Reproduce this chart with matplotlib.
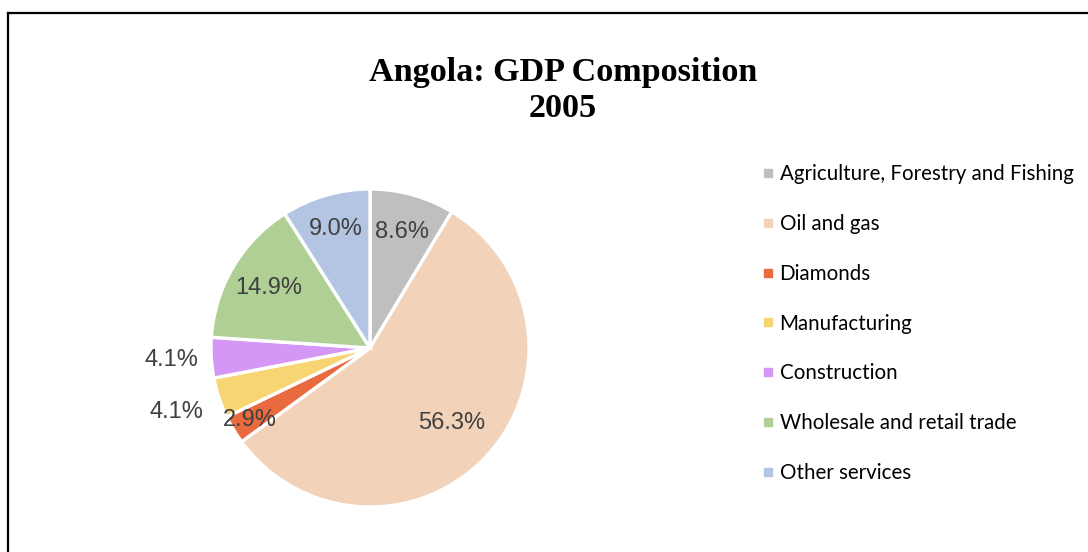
import numpy as np
import matplotlib
matplotlib.use("Agg")
import matplotlib.pyplot as plt
from matplotlib.lines import Line2D

# ---- data ----
categories = ["Agriculture, Forestry and Fishing", "Oil and gas", "Diamonds",
              "Manufacturing", "Construction", "Wholesale and retail trade",
              "Other services"]
shares = [8.6, 56.3, 2.9, 4.1, 4.1, 14.9, 9.0]
pct_labels = ["8.6%", "56.3%", "2.9%", "4.1%", "4.1%", "14.9%", "9.0%"]
title_line1 = "Angola: GDP Composition"
title_line2 = "2005"

# ---- style ----
colors = ["#BFBFBF", "#F2D3BA", "#EA6A3F", "#F6D572", "#D497F5", "#B0CF95", "#B4C4E3"]
label_dist = [0.76, 0.70, 0.88, 1.28, 1.25, 0.74, 0.78]

W, H, DPI = 1088, 552, 100
fig = plt.figure(figsize=(W / DPI, H / DPI), dpi=DPI)
fig.patch.set_facecolor("white")

# frame lines (top and left, as in the cropped screenshot)
fig.add_artist(Line2D([8 / W, 1.0], [1 - 12.5 / H, 1 - 12.5 / H], transform=fig.transFigure,
                      color="black", lw=1.6))
fig.add_artist(Line2D([8 / W, 8 / W], [0.0, 1 - 12.5 / H], transform=fig.transFigure,
                      color="black", lw=1.6))

# pie axes
cx, cy, r = 370, 348, 159
ax = fig.add_axes([(cx - r) / W, (H - cy - r) / H, 2 * r / W, 2 * r / H])
wedges, _ = ax.pie(shares, colors=colors, startangle=90, counterclock=False,
                   radius=1.0, wedgeprops=dict(edgecolor="white", linewidth=2.4))
ax.set_xlim(-1, 1)
ax.set_ylim(-1, 1)
ax.set_aspect("equal")
ax.axis("off")

for w, lab, d in zip(wedges, pct_labels, label_dist):
    ang = np.deg2rad((w.theta1 + w.theta2) / 2)
    ax.text(d * np.cos(ang), d * np.sin(ang), lab, ha="center", va="center",
            fontsize=17, color="#404040", family="Liberation Sans", clip_on=False)

# title
fig.text(563 / W, 1 - 72 / H, title_line1, ha="center", va="center",
         fontsize=24.6, fontweight="bold", family="Liberation Serif", color="black")
fig.text(563 / W, 1 - 108.5 / H, title_line2, ha="center", va="center",
         fontsize=24.6, fontweight="bold", family="Liberation Serif", color="black")

# legend
handles = [Line2D([], [], marker="s", linestyle="none", markersize=5.2,
                  markerfacecolor=c, markeredgecolor=c) for c in colors]
fig.legend(handles, categories, loc="center left",
           bbox_to_anchor=(760 / W, 1 - 323.5 / H), frameon=False,
           prop=dict(family="Lato", size=14.8), handlelength=0.75,
           handletextpad=0.2, labelspacing=1.45, borderpad=0, borderaxespad=0)

fig.savefig("out.png", dpi=DPI, facecolor="white")
